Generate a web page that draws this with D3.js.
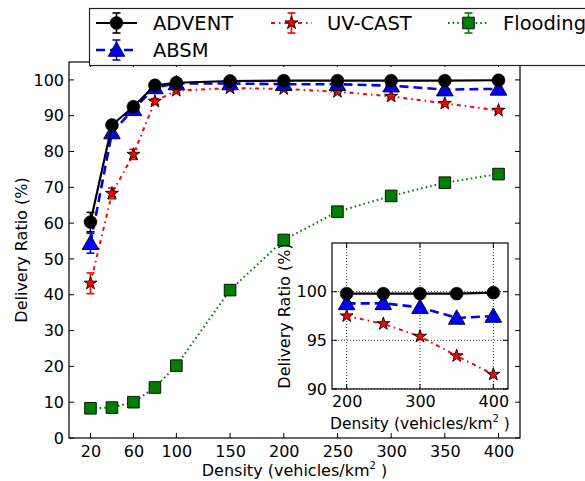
<!DOCTYPE html>
<html>
<head>
<meta charset="utf-8">
<script src="https://cdn.jsdelivr.net/npm/d3@7"></script>
<style>
  html, body { margin: 0; padding: 0; background: #fff; }
  svg { display: block; font-family: "DejaVu Sans", sans-serif; }
</style>
</head>
<body>
<svg id="chart" width="585" height="481"></svg>
<script>
// Delivery ratio (%) by vehicle density (vehicles/km²)
const density   = [20, 40, 60, 80, 100, 150, 200, 250, 300, 350, 400];
const advent    = [60.3, 87.4, 92.5, 98.5, 99.2, 99.7, 99.8, 99.8, 99.8, 99.8, 99.9];
const absm      = [54.4, 85.3, 91.8, 97.9, 99.0, 99.0, 98.8, 98.8, 98.4, 97.3, 97.5];
const uvcast    = [43.2, 68.3, 79.2, 94.0, 97.0, 97.7, 97.5, 96.7, 95.4, 93.4, 91.5];
const flooding  = [8.3, 8.5, 10.0, 14.1, 20.2, 41.3, 55.3, 63.2, 67.6, 71.3, 73.7];

const adventErr   = [2.7, 0.8, 0.6, 0.4, 0.3, 0.2, 0.1, 0.1, 0.1, 0.1, 0.1];
const absmErr     = [2.8, 1.0, 0.8, 0.5, 0.4, 0.3, 0.2, 0.2, 0.2, 0.2, 0.2];
const uvcastErr   = [2.9, 1.5, 1.4, 0.8, 0.6, 0.5, 0.4, 0.4, 0.4, 0.4, 0.4];
const floodingErr = [0.4, 0.4, 0.4, 0.4, 0.4, 0.4, 0.4, 0.4, 0.4, 0.4, 0.4];

const seriesNames = ["ADVENT", "ABSM", "UV-CAST", "Flooding"];

const xTicks  = [20, 60, 100, 150, 200, 250, 300, 350, 400];
const yTicks  = [0, 10, 20, 30, 40, 50, 60, 70, 80, 90, 100];
const insetDensity = [200, 250, 300, 350, 400];
const insetXTicks = [200, 300, 400];
const insetYTicks = [90, 95, 100];
const xLabel = "Density (vehicles/km";
const yLabel = "Delivery Ratio (%)";

const styles = [
  { color: "#000000", dash: null,         width: 2.2, symbol: "circle",   err: adventErr },
  { color: "#0000ff", dash: "9,5",        width: 2.6, symbol: "triangle", err: absmErr },
  { color: "#ff0000", dash: "4,4,1.5,4",  width: 2.0, symbol: "star",     err: uvcastErr },
  { color: "#008000", dash: "1.6,3",      width: 2.0, symbol: "square",   err: floodingErr }
];
const values = [advent, absm, uvcast, flooding];

const svg = d3.select("#chart");

const main = { left: 69, right: 520, top: 62, bottom: 438 };
const x = d3.scaleLinear().domain([0, 420]).range([main.left, main.right]);
const y = d3.scaleLinear().domain([0, 105]).range([main.bottom, main.top]);

const ins = { left: 332, right: 508, top: 243, bottom: 389 };
const xi = d3.scaleLinear().domain([180, 420]).range([ins.left, ins.right]);
const yi = d3.scaleLinear().domain([90, 105]).range([ins.bottom, ins.top]);

function symbolPath(kind) {
  const map = {
    circle:   d3.symbol(d3.symbolCircle, 130),
    triangle: d3.symbol(d3.symbolTriangle, 120),
    star:     d3.symbol(d3.symbolStar, 52),
    square:   d3.symbol(d3.symbolSquare, 135)
  };
  return map[kind]();
}

function drawMarker(g, kind, color, cx, cy) {
  const dy = kind === "triangle" ? 1.5 : 0;
  g.append("path")
    .attr("d", symbolPath(kind))
    .attr("transform", `translate(${cx},${cy + dy})`)
    .attr("fill", color)
    .attr("stroke", "#000")
    .attr("stroke-width", kind === "circle" ? 0.6 : 0.9);
}

// inward ticks on all four sides of a frame
function frameTicks(g, xs, ys, xsc, ysc, box, len) {
  xs.forEach(t => {
    g.append("line").attr("x1", xsc(t)).attr("x2", xsc(t))
      .attr("y1", box.bottom).attr("y2", box.bottom - len).attr("stroke", "#000");
    g.append("line").attr("x1", xsc(t)).attr("x2", xsc(t))
      .attr("y1", box.top).attr("y2", box.top + len).attr("stroke", "#000");
  });
  ys.forEach(t => {
    g.append("line").attr("y1", ysc(t)).attr("y2", ysc(t))
      .attr("x1", box.left).attr("x2", box.left + len).attr("stroke", "#000");
    g.append("line").attr("y1", ysc(t)).attr("y2", ysc(t))
      .attr("x1", box.right).attr("x2", box.right - len).attr("stroke", "#000");
  });
}

// ---------- main axes ----------
const gMain = svg.append("g");

const xAxis = d3.axisBottom(x).tickValues(xTicks).tickSize(0).tickPadding(8);
gMain.append("g").attr("transform", `translate(0,${main.bottom})`).call(xAxis)
  .call(a => a.select(".domain").remove())
  .selectAll("text").attr("font-size", 16).attr("fill", "#000")
  .attr("font-family", "DejaVu Sans");

const yAxis = d3.axisLeft(y).tickValues(yTicks).tickSize(0).tickPadding(5);
gMain.append("g").attr("transform", `translate(${main.left},0)`).call(yAxis)
  .call(a => a.select(".domain").remove())
  .selectAll("text").attr("font-size", 16).attr("fill", "#000")
  .attr("font-family", "DejaVu Sans");

// axis titles
const xt = gMain.append("text")
  .attr("x", (main.left + main.right) / 2).attr("y", 476)
  .attr("text-anchor", "middle").attr("font-size", 16);
xt.append("tspan").text(xLabel);
xt.append("tspan").attr("font-size", 10).attr("dy", -7).text("2");
xt.append("tspan").attr("dy", 7).text(" )");

gMain.append("text")
  .attr("transform", `translate(27,${(main.top + main.bottom) / 2}) rotate(-90)`)
  .attr("text-anchor", "middle").attr("font-size", 16).text(yLabel);

// inset y title sits beneath the main series markers
svg.append("text")
  .attr("transform", `translate(290,${(ins.top + ins.bottom) / 2}) rotate(-90)`)
  .attr("text-anchor", "middle").attr("font-size", 16).text(yLabel);

// ---------- main series ----------
const gSeries = svg.append("g");
const order = [3, 2, 1, 0];
order.forEach(i => {
  const st = styles[i];
  const pts = density.map((d, k) => [x(d), y(values[i][k])]);
  gSeries.append("path")
    .attr("d", d3.line()(pts))
    .attr("fill", "none").attr("stroke", st.color)
    .attr("stroke-width", st.width)
    .attr("stroke-dasharray", st.dash);
  density.forEach((d, k) => {
    const e = st.err[k];
    const y0 = y(values[i][k] - e), y1 = y(values[i][k] + e);
    gSeries.append("line").attr("x1", x(d)).attr("x2", x(d))
      .attr("y1", y0).attr("y2", y1).attr("stroke", st.color).attr("stroke-width", 1.6);
    [y0, y1].forEach(yy => gSeries.append("line")
      .attr("x1", x(d) - 4).attr("x2", x(d) + 4).attr("y1", yy).attr("y2", yy)
      .attr("stroke", st.color).attr("stroke-width", 1.6));
  });
  density.forEach((d, k) => drawMarker(gSeries, st.symbol, st.color, x(d), y(values[i][k])));
});

// main frame and ticks
gMain.append("rect")
  .attr("x", main.left).attr("y", main.top)
  .attr("width", main.right - main.left).attr("height", main.bottom - main.top)
  .attr("fill", "none").attr("stroke", "#000").attr("stroke-width", 1.2);
frameTicks(svg.append("g"), xTicks, yTicks, x, y, main, 5);

// ---------- inset ----------
const gIns = svg.append("g");
gIns.append("rect")
  .attr("x", ins.left).attr("y", ins.top)
  .attr("width", ins.right - ins.left).attr("height", ins.bottom - ins.top)
  .attr("fill", "#fff");

// dotted grid
insetXTicks.forEach(t => gIns.append("line")
  .attr("x1", xi(t)).attr("x2", xi(t)).attr("y1", ins.top).attr("y2", ins.bottom)
  .attr("stroke", "#000").attr("stroke-width", 0.8).attr("stroke-dasharray", "1,2"));
insetYTicks.forEach(t => gIns.append("line")
  .attr("y1", yi(t)).attr("y2", yi(t)).attr("x1", ins.left).attr("x2", ins.right)
  .attr("stroke", "#000").attr("stroke-width", 0.8).attr("stroke-dasharray", "1,2"));

[2, 1, 0].forEach(i => {
  const st = styles[i];
  const off = density.indexOf(insetDensity[0]);
  const vals = insetDensity.map((d, k) => values[i][off + k]);
  gIns.append("path")
    .attr("d", d3.line()(insetDensity.map((d, k) => [xi(d), yi(vals[k])])))
    .attr("fill", "none").attr("stroke", st.color)
    .attr("stroke-width", st.width).attr("stroke-dasharray", st.dash);
  insetDensity.forEach((d, k) => drawMarker(gIns, st.symbol, st.color, xi(d), yi(vals[k])));
});

gIns.append("rect")
  .attr("x", ins.left).attr("y", ins.top)
  .attr("width", ins.right - ins.left).attr("height", ins.bottom - ins.top)
  .attr("fill", "none").attr("stroke", "#000").attr("stroke-width", 1.2);
frameTicks(gIns, insetXTicks, insetYTicks, xi, yi, ins, 5);

const xiAxis = d3.axisBottom(xi).tickValues(insetXTicks).tickSize(0).tickPadding(7);
gIns.append("g").attr("transform", `translate(0,${ins.bottom})`).call(xiAxis)
  .call(a => a.select(".domain").remove())
  .selectAll("text").attr("font-size", 16).attr("fill", "#000").attr("font-family", "DejaVu Sans");
const yiAxis = d3.axisLeft(yi).tickValues(insetYTicks).tickSize(0).tickPadding(5);
gIns.append("g").attr("transform", `translate(${ins.left},0)`).call(yiAxis)
  .call(a => a.select(".domain").remove())
  .selectAll("text").attr("font-size", 16).attr("fill", "#000").attr("font-family", "DejaVu Sans");

const xit = gIns.append("text")
  .attr("x", (ins.left + ins.right) / 2).attr("y", 429)
  .attr("text-anchor", "middle").attr("font-size", 15.5);
xit.append("tspan").text(xLabel);
xit.append("tspan").attr("font-size", 10).attr("dy", -7).text("2");
xit.append("tspan").attr("dy", 7).text(" )");

// ---------- legend ----------
const gLeg = svg.append("g");
gLeg.append("rect")
  .attr("x", 89.5).attr("y", 8.5).attr("width", 520).attr("height", 57)
  .attr("fill", "#fff").attr("stroke", "#222").attr("stroke-width", 1.2);

const legPos = [
  { hx: 96, tx: 153, cy: 23 },
  { hx: 96, tx: 153, cy: 50 },
  { hx: 271, tx: 327, cy: 23 },
  { hx: 448, tx: 503, cy: 23 }
];
seriesNames.forEach((name, i) => {
  const st = styles[i], p = legPos[i];
  const mx = p.hx + 20.5;
  gLeg.append("line").attr("x1", p.hx).attr("x2", p.hx + 41)
    .attr("y1", p.cy).attr("y2", p.cy)
    .attr("stroke", st.color).attr("stroke-width", st.width)
    .attr("stroke-dasharray", st.dash);
  gLeg.append("line").attr("x1", mx).attr("x2", mx)
    .attr("y1", p.cy - 10).attr("y2", p.cy + 10)
    .attr("stroke", st.color).attr("stroke-width", 1.6);
  [p.cy - 10, p.cy + 10].forEach(yy => gLeg.append("line")
    .attr("x1", mx - 4).attr("x2", mx + 4).attr("y1", yy).attr("y2", yy)
    .attr("stroke", st.color).attr("stroke-width", 1.6));
  drawMarker(gLeg, st.symbol, st.color, mx, p.cy);
  gLeg.append("text").attr("x", p.tx).attr("y", p.cy + 7)
    .attr("font-size", 19.5).text(name);
});
</script>
</body>
</html>
